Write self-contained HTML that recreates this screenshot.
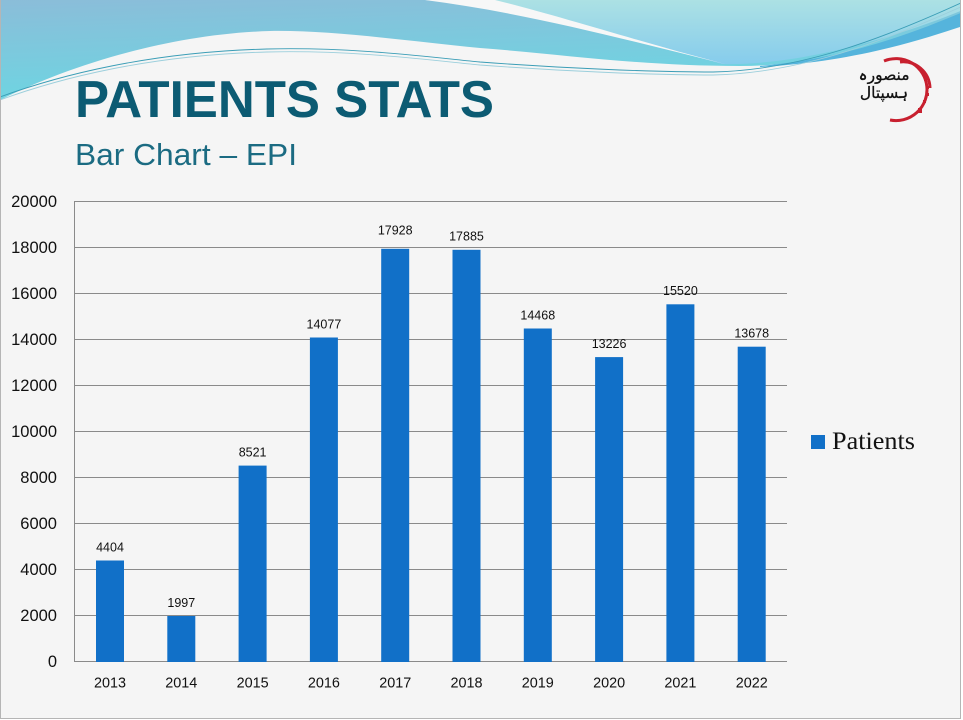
<!DOCTYPE html>
<html><head><meta charset="utf-8"><style>
html,body{margin:0;padding:0;background:#fff;}
svg{display:block;}
</style></head><body>
<svg width="963" height="720" viewBox="0 0 963 720" xmlns="http://www.w3.org/2000/svg">
<defs>
<linearGradient id="gMain" x1="0" y1="0" x2="0.3" y2="1">
<stop offset="0" stop-color="#8bbdd9"/><stop offset="1" stop-color="#6cd6e2"/>
</linearGradient>
<linearGradient id="gTR" x1="0" y1="0" x2="0" y2="1">
<stop offset="0" stop-color="#ace1e4"/><stop offset="1" stop-color="#86ccec"/>
</linearGradient>
</defs>
<rect x="0" y="0" width="963" height="720" fill="#f5f5f5"/>
<!-- header waves -->
<path d="M0,0 L963,0 L963,22 C900,40 820,66 740,66 C640,66 560,54 480,48 C400,40 330,30 270,31 C170,34 70,65 0,100 Z" fill="url(#gMain)"/>
<path d="M425,0 C520,10 620,36 722,64 C800,66 900,36 963,10 L963,0 Z" fill="url(#gTR)"/>
<path d="M425,0 C520,12 620,38 725,64 C640,42 560,16 495,0 Z" fill="#f7f7f7"/>
<path d="M760,66 C850,58 915,32 963,12 L963,26 C915,42 850,62 760,67 Z" fill="#55b4dc"/>
<path d="M0,97 C60,75 150,52 267,49 C350,47 420,56 480,62 C560,68 650,72 713,72 C800,70 880,40 963,2" fill="none" stroke="#3a9db6" stroke-width="0.9"/>
<path d="M0,100 C60,78 150,55 267,52 C350,50 420,59 480,65 C560,71 650,75 713,75 C800,73 880,43 963,6" fill="none" stroke="#9ccfdc" stroke-width="0.9"/>
<!-- border -->
<line x1="0.5" y1="0" x2="0.5" y2="719" stroke="#b5b5b5"/>
<line x1="960.5" y1="0" x2="960.5" y2="719" stroke="#b5b5b5"/>
<line x1="0" y1="718.5" x2="961" y2="718.5" stroke="#b5b5b5"/>
<rect x="961" y="0" width="2" height="720" fill="#fff"/>
<rect x="0" y="719" width="963" height="1" fill="#fff"/>
<!-- titles -->
<text x="75" y="117" font-family="Liberation Sans, sans-serif" font-weight="bold" font-size="52" fill="#0c5b73" textLength="419" lengthAdjust="spacingAndGlyphs">PATIENTS STATS</text>
<text x="75" y="165" font-family="Liberation Sans, sans-serif" font-size="31" fill="#1b6b82" textLength="222" lengthAdjust="spacingAndGlyphs">Bar Chart – EPI</text>
<!-- logo -->
<path d="M884,61 A31,31 0 1 1 890,120" fill="none" stroke="#c8202f" stroke-width="3"/>
<path d="M900,62 A27,27 0 0 1 930,88" fill="none" stroke="#c8202f" stroke-width="3"/>
<g fill="#c8202f">
<rect x="924" y="76" width="3" height="5"/>
<rect x="926" y="86" width="3" height="3"/>
<rect x="926" y="93" width="3" height="3"/>
<rect x="923" y="100" width="3" height="3"/>
<rect x="918" y="108" width="4" height="5"/>
</g>
<text x="884" y="80" text-anchor="middle" font-family="DejaVu Sans, sans-serif" font-size="15.5" fill="#111" stroke="#111" stroke-width="0.3">منصورہ</text>
<text x="884" y="98" text-anchor="middle" font-family="DejaVu Sans, sans-serif" font-size="15.5" fill="#111" stroke="#111" stroke-width="0.3">ہسپتال</text>
<!-- gridlines -->
<g stroke="#8a8a8a" stroke-width="1">
<line x1="74" y1="201.5" x2="787" y2="201.5"/>
<line x1="74" y1="247.5" x2="787" y2="247.5"/>
<line x1="74" y1="293.5" x2="787" y2="293.5"/>
<line x1="74" y1="339.5" x2="787" y2="339.5"/>
<line x1="74" y1="385.5" x2="787" y2="385.5"/>
<line x1="74" y1="431.5" x2="787" y2="431.5"/>
<line x1="74" y1="477.5" x2="787" y2="477.5"/>
<line x1="74" y1="523.5" x2="787" y2="523.5"/>
<line x1="74" y1="569.5" x2="787" y2="569.5"/>
<line x1="74" y1="615.5" x2="787" y2="615.5"/>
<line x1="74" y1="661.5" x2="787" y2="661.5"/>
<line x1="74.5" y1="201" x2="74.5" y2="662"/>
</g>
<!-- y labels -->
<g font-family="Liberation Sans, sans-serif" font-size="16.5" fill="#111" text-anchor="end">
<text x="57" y="207">20000</text>
<text x="57" y="253">18000</text>
<text x="57" y="299">16000</text>
<text x="57" y="345">14000</text>
<text x="57" y="391">12000</text>
<text x="57" y="437">10000</text>
<text x="57" y="483">8000</text>
<text x="57" y="529">6000</text>
<text x="57" y="575">4000</text>
<text x="57" y="621">2000</text>
<text x="57" y="667">0</text>
</g>
<!-- bars -->
<g fill="#1170c8">
<rect x="96" y="560.5" width="28" height="101.5"/>
<rect x="167.3" y="616" width="28" height="46"/>
<rect x="238.6" y="465.6" width="28" height="196.4"/>
<rect x="309.9" y="337.5" width="28" height="324.5"/>
<rect x="381.2" y="248.8" width="28" height="413.2"/>
<rect x="452.5" y="249.8" width="28" height="412.2"/>
<rect x="523.8" y="328.5" width="28" height="333.5"/>
<rect x="595.1" y="357.1" width="28" height="304.9"/>
<rect x="666.4" y="304.3" width="28" height="357.7"/>
<rect x="737.7" y="346.7" width="28" height="315.3"/>
</g>
<!-- data labels -->
<g font-family="Liberation Sans, sans-serif" font-size="12.5" fill="#111" text-anchor="middle">
<text x="110" y="551.5">4404</text>
<text x="181.3" y="607">1997</text>
<text x="252.6" y="456.5">8521</text>
<text x="323.9" y="328.5">14077</text>
<text x="395.2" y="234.5">17928</text>
<text x="466.5" y="240.5">17885</text>
<text x="537.8" y="319.5">14468</text>
<text x="609.1" y="348">13226</text>
<text x="680.4" y="295">15520</text>
<text x="751.7" y="337.5">13678</text>
</g>
<!-- x labels -->
<g font-family="Liberation Sans, sans-serif" font-size="14.4" fill="#111" text-anchor="middle">
<text x="110" y="687.5">2013</text>
<text x="181.3" y="687.5">2014</text>
<text x="252.6" y="687.5">2015</text>
<text x="323.9" y="687.5">2016</text>
<text x="395.2" y="687.5">2017</text>
<text x="466.5" y="687.5">2018</text>
<text x="537.8" y="687.5">2019</text>
<text x="609.1" y="687.5">2020</text>
<text x="680.4" y="687.5">2021</text>
<text x="751.7" y="687.5">2022</text>
</g>
<!-- legend -->
<rect x="811" y="435" width="14" height="14" fill="#1170c8"/>
<text x="832" y="449" font-family="Liberation Serif, serif" font-size="25" fill="#111" textLength="83" lengthAdjust="spacingAndGlyphs">Patients</text>
</svg>
</body></html>
